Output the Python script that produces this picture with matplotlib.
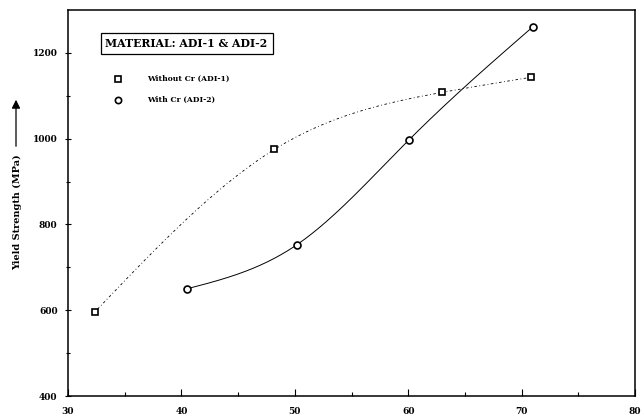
import numpy as np
import matplotlib
matplotlib.use("Agg")
import matplotlib.pyplot as plt

# Measured yield strength vs. austempering parameter
x_adi1 = [32.4, 48.2, 63.0, 70.8]
y_adi1 = [597, 975, 1108, 1143]
x_adi2 = [40.5, 50.2, 60.1, 71.0]
y_adi2 = [650, 753, 998, 1261]

title_text = "MATERIAL: ADI-1 & ADI-2"
label_adi1 = "Without Cr (ADI-1)"
label_adi2 = "With Cr (ADI-2)"
ylabel_text = "Yield Strength (MPa)"

plt.rcParams["font.family"] = ["DejaVu Serif"]

fig = plt.figure(figsize=(6.43, 4.18), dpi=100)
ax = fig.add_axes([68 / 643, 1 - 396 / 418, (635 - 68) / 643, (396 - 10) / 418])


def natural_spline(xs, ys, n=200):
    """Natural cubic spline through the given points."""
    x = np.asarray(xs, float)
    y = np.asarray(ys, float)
    m = len(x)
    h = np.diff(x)
    A = np.zeros((m, m))
    b = np.zeros(m)
    A[0, 0] = A[-1, -1] = 1.0
    for i in range(1, m - 1):
        A[i, i - 1] = h[i - 1]
        A[i, i] = 2 * (h[i - 1] + h[i])
        A[i, i + 1] = h[i]
        b[i] = 3 * ((y[i + 1] - y[i]) / h[i] - (y[i] - y[i - 1]) / h[i - 1])
    c = np.linalg.solve(A, b)
    xx = np.linspace(x[0], x[-1], n)
    idx = np.clip(np.searchsorted(x, xx) - 1, 0, m - 2)
    bcoef = (y[1:] - y[:-1]) / h - h * (2 * c[:-1] + c[1:]) / 3
    dcoef = (c[1:] - c[:-1]) / (3 * h)
    t = xx - x[idx]
    yy = y[idx] + bcoef[idx] * t + c[idx] * t ** 2 + dcoef[idx] * t ** 3
    return xx, yy


xx, yy = natural_spline(x_adi1, y_adi1)
ax.plot(xx, yy, color="black", lw=0.6, ls=(0, (1, 3, 3, 3)))
xx, yy = natural_spline(x_adi2, y_adi2)
ax.plot(xx, yy, color="black", lw=0.7, ls="-")

ax.plot(x_adi1, y_adi1, ls="none", marker="s", ms=5, mfc="white", mec="black", mew=1.2)
ax.plot(x_adi2, y_adi2, ls="none", marker="o", ms=5, mfc="white", mec="black", mew=1.2)

ax.set_xlim(30, 80)
ax.set_ylim(400, 1300)
ax.set_xticks([30, 40, 50, 60, 70, 80])
ax.set_xticks([35, 45, 55, 65, 75], minor=True)
ax.set_yticks([400, 600, 800, 1000, 1200])
ax.set_yticks([500, 700, 900, 1100], minor=True)
ax.tick_params(axis="x", which="major", direction="in", length=5, width=0.8, labelsize=6.5, pad=8)
ax.tick_params(axis="x", which="minor", direction="in", length=3, width=0.8)
ax.tick_params(axis="y", which="major", direction="inout", length=5, width=0.8, labelsize=6.5, pad=5)
ax.tick_params(axis="y", which="minor", direction="inout", length=3, width=0.8)
for lab in ax.get_xticklabels() + ax.get_yticklabels():
    lab.set_fontweight("bold")
for sp in ax.spines.values():
    sp.set_linewidth(1.1)

# Title box
ax.text(33.3, 1222, title_text, fontsize=7.8, fontweight="bold", va="center", ha="left",
        bbox=dict(boxstyle="square,pad=0.45", fc="white", ec="black", lw=0.9))

# Legend entries
ax.plot([34.4], [1140], ls="none", marker="s", ms=4.5, mfc="white", mec="black", mew=1.2)
ax.plot([34.4], [1091], ls="none", marker="o", ms=4.5, mfc="white", mec="black", mew=1.2)
ax.text(37.0, 1140, label_adi1, fontsize=5.5, fontweight="bold", va="center", ha="left")
ax.text(37.0, 1091, label_adi2, fontsize=5.5, fontweight="bold", va="center", ha="left")

# Rotated y-axis label with upward arrow
fig.text(18 / 643, 1 - 212 / 418, ylabel_text, rotation=90, fontsize=7, fontweight="bold",
         ha="center", va="center")
fig.patches.append(matplotlib.patches.FancyArrowPatch(
    (16 / 643, 1 - 149 / 418), (16 / 643, 1 - 97 / 418), transform=fig.transFigure,
    arrowstyle="-|>,head_length=5,head_width=2.5", color="black", lw=0.9))

fig.savefig("out.png", dpi=100)
